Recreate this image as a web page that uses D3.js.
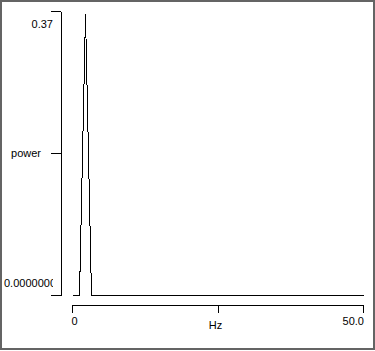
<!DOCTYPE html>
<html>
<head>
<meta charset="utf-8">
<script src="https://cdn.jsdelivr.net/npm/d3@7"></script>
<style>
  body { margin: 0; background: #fff; }
  text { font-family: "Liberation Sans", Arial, sans-serif; font-size: 11px; fill: #000; }
</style>
</head>
<body>
<div id="chart"></div>
<script>
// spectrum: one narrow peak near 2 Hz
const hz = [0, 1.2, 2.2, 3.2, 50];
const power = [0, 0, 0.366, 0, 0];
const yTicks = [0, 0.185, 0.37];
const yLabels = ['0.0000000', 'power', '0.37'];
const xTicks = [0, 25, 50];
const xLabels = ['0', 'Hz', '50.0'];

const W = 375, H = 351;
const svg = d3.select('#chart').append('svg').attr('width', W).attr('height', H);

svg.append('rect').attr('x', 1).attr('y', 1).attr('width', W - 2).attr('height', H - 3)
  .attr('fill', '#fff').attr('stroke', '#646464').attr('stroke-width', 2);

const x = d3.scaleLinear().domain([0, 50]).range([72, 363]);
const y = d3.scaleLinear().domain([0, 0.37]).range([295, 11]);

// y axis
const yAxis = svg.append('g').attr('transform', 'translate(61,0)')
  .call(d3.axisLeft(y).tickValues(yTicks).tickSize(10).tickSizeOuter(0).tickFormat(''));
yAxis.selectAll('path, line').attr('stroke', '#000').attr('shape-rendering', 'crispEdges');

const yPos = [287, 157, 28];
svg.append('g').selectAll('text').data(yLabels).enter().append('text')
  .attr('x', (d, i) => i === 0 ? 4 : i === 1 ? 41 : 53)
  .attr('y', (d, i) => yPos[i])
  .attr('text-anchor', (d, i) => i === 0 ? 'start' : 'end')
  .text(d => d);
// clip the long zero label the way the original does
svg.append('rect').attr('x', 53).attr('y', 276).attr('width', 7).attr('height', 14).attr('fill', '#fff');

// x axis
const xAxis = svg.append('g').attr('transform', 'translate(0,305)')
  .call(d3.axisBottom(x).tickValues(xTicks).tickSize(8).tickSizeOuter(0).tickFormat(''));
xAxis.selectAll('path, line').attr('stroke', '#000').attr('shape-rendering', 'crispEdges');

svg.append('g').selectAll('text').data(xLabels).enter().append('text')
  .attr('x', (d, i) => x(xTicks[i]) + (i === 0 ? -0.5 : i === 2 ? 1 : -2))
  .attr('y', (d, i) => i === 1 ? 329 : 325)
  .attr('text-anchor', (d, i) => ['start', 'middle', 'end'][i])
  .text(d => d);

// spectrum line
const line = d3.line().x((d, i) => Math.round(x(hz[i])) + 0.5).y(d => Math.round(y(d)) + 0.5);
svg.append('path').datum(power)
  .attr('fill', 'none').attr('stroke', '#000').attr('stroke-width', 1)
  .attr('shape-rendering', 'crispEdges')
  .attr('d', line);
</script>
</body>
</html>
